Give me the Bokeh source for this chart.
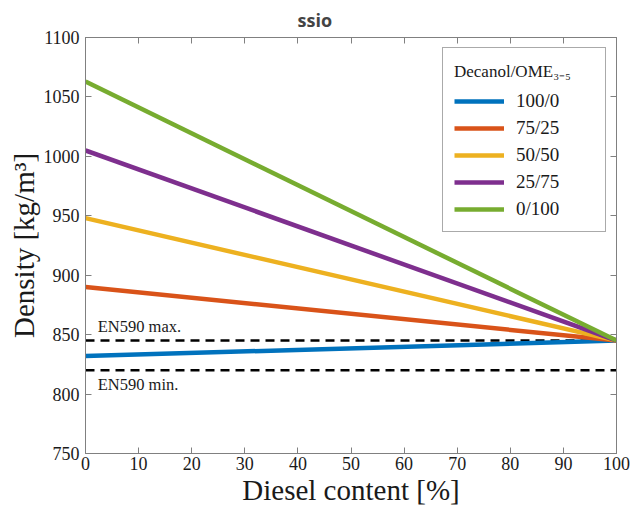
from bokeh.plotting import figure
from bokeh.models import LinearAxis, Legend, LegendItem, Label, Range1d, FixedTicker
from bokeh.embed import file_html
from bokeh.resources import INLINE

# Data
diesel = [0, 100]
blend_labels = ["100/0", "75/25", "50/50", "25/75", "0/100"]
density_at_0 = [832, 890, 948, 1005, 1063]
density_at_100 = [845, 845, 845, 845, 845]
colors = ["#0072BD", "#D95319", "#EDB120", "#7E2F8E", "#77AC30"]
en590_max = 845
en590_min = 820
x_ticks = [0, 10, 20, 30, 40, 50, 60, 70, 80, 90, 100]
y_ticks = [750, 800, 850, 900, 950, 1000, 1050, 1100]

SERIF = "Liberation Serif"
AX = "#808080"
TXT = "#1a1a1a"

p = figure(width=630, height=508, output_backend="svg", toolbar_location=None,
           x_range=Range1d(0, 100), y_range=Range1d(750, 1100),
           title="ssio")
p.min_border_left = 85
p.min_border_right = 14
p.min_border_top = 34
p.min_border_bottom = 54
p.title.align = "left"
p.title.offset = 212
p.title.text_font = "Open Sans"
p.title.text_font_style = "bold"
p.title.text_font_size = "18px"
p.title.standoff = 11

p.xgrid.visible = False
p.ygrid.visible = False
p.outline_line_color = AX
p.outline_line_width = 1

def style_axis(ax, show_labels=True):
    ax.axis_line_color = AX
    ax.major_tick_line_color = AX
    ax.major_tick_in = 6
    ax.major_tick_out = 0
    ax.minor_tick_line_color = None
    ax.major_label_text_font = SERIF
    ax.major_label_text_font_size = "18px"
    ax.major_label_text_color = TXT
    if not show_labels:
        ax.major_label_text_font_size = "0px"
        ax.major_label_standoff = 0

p.xaxis.ticker = FixedTicker(ticks=x_ticks)
p.yaxis.ticker = FixedTicker(ticks=y_ticks)
style_axis(p.xaxis[0])
style_axis(p.yaxis[0])
p.xaxis.major_label_standoff = 3
p.yaxis.major_label_standoff = 6
p.xaxis.axis_label = "Diesel content [%]"
p.yaxis.axis_label = "Density [kg/m³]"
for ax in (p.xaxis[0], p.yaxis[0]):
    ax.axis_label_text_font = SERIF
    ax.axis_label_text_font_size = "29px"
    ax.axis_label_text_font_style = "normal"
    ax.axis_label_text_color = TXT
    ax.axis_label_standoff = 1

top_ax = LinearAxis(ticker=FixedTicker(ticks=x_ticks))
right_ax = LinearAxis(ticker=FixedTicker(ticks=y_ticks))
style_axis(top_ax, False)
style_axis(right_ax, False)
top_ax.major_label_overrides = {t: "" for t in x_ticks}
right_ax.major_label_overrides = {t: "" for t in y_ticks}
p.add_layout(top_ax, "above")
p.add_layout(right_ax, "right")

# EN590 limits
p.line(diesel, [en590_max, en590_max], line_color="black", line_width=2.5, line_dash="9 6")
p.line(diesel, [en590_min, en590_min], line_color="black", line_width=2.5, line_dash="9 6")

items = []
for lab, y0, y1, c in zip(blend_labels, density_at_0, density_at_100, colors):
    r = p.line(diesel, [y0, y1], line_color=c, line_width=4.5)
    items.append(LegendItem(label=lab, renderers=[r]))

p.add_layout(Label(x=2.3, y=en590_max, y_offset=5, text="EN590 max.", text_font=SERIF,
                   text_font_size="16.5px", text_baseline="bottom", text_color=TXT))
p.add_layout(Label(x=2.3, y=en590_min, y_offset=-5, text="EN590 min.", text_font=SERIF,
                   text_font_size="16.5px", text_baseline="top", text_color=TXT))

legend = Legend(items=items, location="top_right", title="Decanol/OME₃₋₅")
legend.margin = 10
legend.padding = 11
legend.title_text_font = SERIF
legend.title_text_font_size = "17px"
legend.title_text_font_style = "normal"
legend.title_text_color = TXT
legend.title_standoff = 8
legend.label_text_font = SERIF
legend.label_text_font_size = "19px"
legend.label_text_color = TXT
legend.glyph_width = 50
legend.glyph_height = 22
legend.label_height = 22
legend.label_width = 78
legend.spacing = 5
legend.label_standoff = 12
legend.border_line_color = "#555555"
legend.border_line_width = 1
legend.background_fill_alpha = 1
p.add_layout(legend)

open("out.html", "w").write(file_html(p, INLINE))
